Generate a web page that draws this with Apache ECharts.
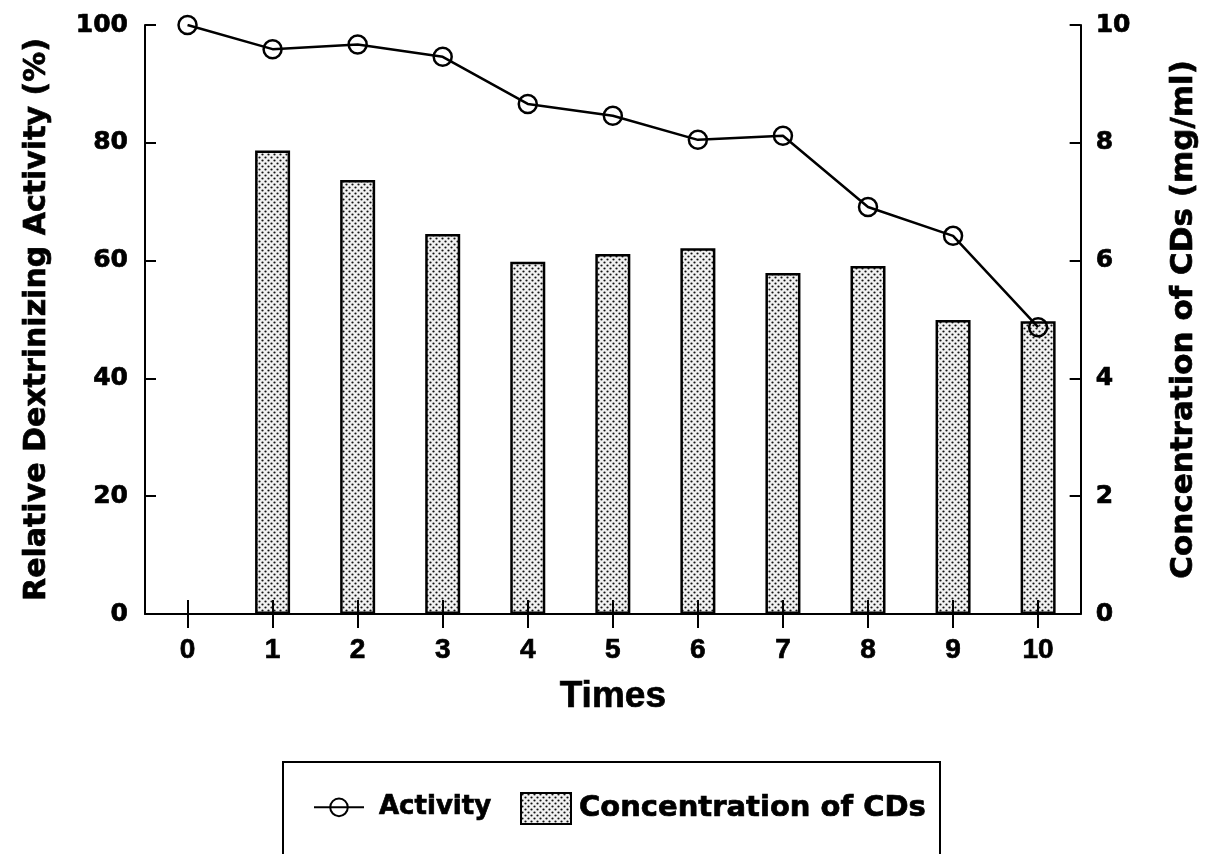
<!DOCTYPE html>
<html>
<head>
<meta charset="utf-8">
<script src="https://cdn.jsdelivr.net/npm/echarts@6/dist/echarts.min.js"></script>
<style>
  html, body { margin: 0; padding: 0; background: #fff; }
  #chart { width: 1208px; height: 854px; }
</style>
</head>
<body>
<div id="chart"></div>
<script>
// Reuse cycles (Times) and measured values
const times = ['0', '1', '2', '3', '4', '5', '6', '7', '8', '9', '10'];
// Relative dextrinizing activity (%)
const activity = [100, 95.9, 96.7, 94.6, 86.6, 84.6, 80.5, 81.2, 69.1, 64.2, 48.7];
// Concentration of CDs (mg/ml); no product at time 0
const concentration = [null, 7.87, 7.37, 6.45, 5.98, 6.11, 6.21, 5.79, 5.91, 4.99, 4.97];
const leftTicks = [0, 20, 40, 60, 80, 100];
const rightTicks = [0, 2, 4, 6, 8, 10];

// Stippled fill for the bars
function dotPattern() {
  const c = document.createElement('canvas');
  c.width = 6; c.height = 6;
  const g = c.getContext('2d');
  g.fillStyle = '#f1f1f1';
  g.fillRect(0, 0, 6, 6);
  g.fillStyle = '#111';
  [[1.5, 1.5], [4.5, 4.5]].forEach(([x, y]) => {
    g.beginPath(); g.arc(x, y, 1.1, 0, Math.PI * 2); g.fill();
  });
  return c;
}
const pattern = { image: dotPattern(), repeat: 'repeat' };

const numFont = 'DejaVu Sans';
const txtColor = '#000';
const tickStyle = { color: '#000', width: 2 };
// a thin outline in the text colour gives the heavy lettering
const heavy = { textBorderColor: '#000', textBorderWidth: 0.7 };

const chart = echarts.init(document.getElementById('chart'), null, { renderer: 'canvas' });
chart.setOption({
  backgroundColor: '#fff',
  animation: false,
  grid: { left: 145, right: 123, top: 25, bottom: 240, containLabel: false },
  xAxis: [
    {
      type: 'category', data: times, boundaryGap: true, z: 5,
      name: 'Times', nameLocation: 'middle', nameGap: 64,
      nameTextStyle: Object.assign({ fontFamily: 'Liberation Sans', fontWeight: 'bold', fontSize: 37, color: txtColor }, heavy),
      axisLine: { show: true, lineStyle: { color: '#000', width: 2 } },
      axisTick: { show: true, alignWithLabel: true, inside: true, length: 14, lineStyle: tickStyle },
      axisLabel: Object.assign({ show: true, margin: 22, fontFamily: 'Liberation Sans', fontWeight: 'bold', fontSize: 28, color: txtColor }, heavy),
      splitLine: { show: false }
    },
    {
      type: 'category', data: times, boundaryGap: true, position: 'bottom', z: 5,
      axisLine: { show: false },
      axisTick: { show: true, alignWithLabel: true, inside: false, length: 14, lineStyle: tickStyle },
      axisLabel: { show: false },
      splitLine: { show: false }
    }
  ],
  yAxis: [
    {
      type: 'value', min: 0, max: 100, interval: 20,
      name: 'Relative Dextrinizing Activity (%)', nameLocation: 'middle', nameGap: 93, nameRotate: 90,
      nameTextStyle: Object.assign({ fontFamily: numFont, fontWeight: 'bold', fontSize: 30, color: txtColor }, heavy),
      axisLine: { show: true, lineStyle: { color: '#000', width: 2 } },
      axisTick: { show: true, inside: true, length: 11, lineStyle: tickStyle },
      axisLabel: Object.assign({
        margin: 17, fontFamily: numFont, fontWeight: 'bold', fontSize: 25, color: txtColor,
        formatter: v => leftTicks.includes(v) ? String(v) : ''
      }, heavy),
      splitLine: { show: false }
    },
    {
      type: 'value', min: 0, max: 10, interval: 2, position: 'right',
      name: 'Concentration of CDs (mg/ml)', nameLocation: 'middle', nameGap: 88, nameRotate: 90,
      nameTextStyle: Object.assign({ fontFamily: numFont, fontWeight: 'bold', fontSize: 31, color: txtColor }, heavy),
      axisLine: { show: true, lineStyle: { color: '#000', width: 2 } },
      axisTick: { show: true, inside: true, length: 11, lineStyle: tickStyle },
      axisLabel: Object.assign({
        margin: 15, fontFamily: numFont, fontWeight: 'bold', fontSize: 25, color: txtColor,
        formatter: v => rightTicks.includes(v) ? String(v) : ''
      }, heavy),
      splitLine: { show: false }
    }
  ],
  legend: [
    {
      data: ['Activity'], left: 313, top: 794, padding: 0,
      itemWidth: 50, itemHeight: 22,
      textStyle: Object.assign({ fontFamily: numFont, fontWeight: 'bold', fontSize: 26, color: txtColor, padding: [0, 0, 0, 10] }, heavy)
    },
    {
      data: [{ name: 'Concentration of CDs', icon: 'rect' }], left: 520, top: 792, padding: 0,
      itemWidth: 50, itemHeight: 31,
      textStyle: Object.assign({ fontFamily: numFont, fontWeight: 'bold', fontSize: 29, color: txtColor, padding: [0, 0, 0, 3] }, heavy)
    }
  ],
  graphic: [
    {
      type: 'rect', silent: true,
      shape: { x: 283, y: 762, width: 657, height: 130 },
      style: { fill: 'none', stroke: '#000', lineWidth: 2 }
    }
  ],
  series: [
    {
      name: 'Concentration of CDs', type: 'bar', xAxisIndex: 0, yAxisIndex: 1,
      data: concentration, barWidth: 35, z: 2,
      itemStyle: { color: pattern, borderColor: '#000', borderWidth: 2.5 }
    },
    {
      name: 'Activity', type: 'line', xAxisIndex: 0, yAxisIndex: 0,
      data: activity, symbol: 'circle', symbolSize: 18, z: 6,
      lineStyle: { color: '#000', width: 2.5 },
      itemStyle: { color: 'rgba(0,0,0,0)', borderColor: '#000', borderWidth: 2.5 }
    }
  ]
});
</script>
</body>
</html>
